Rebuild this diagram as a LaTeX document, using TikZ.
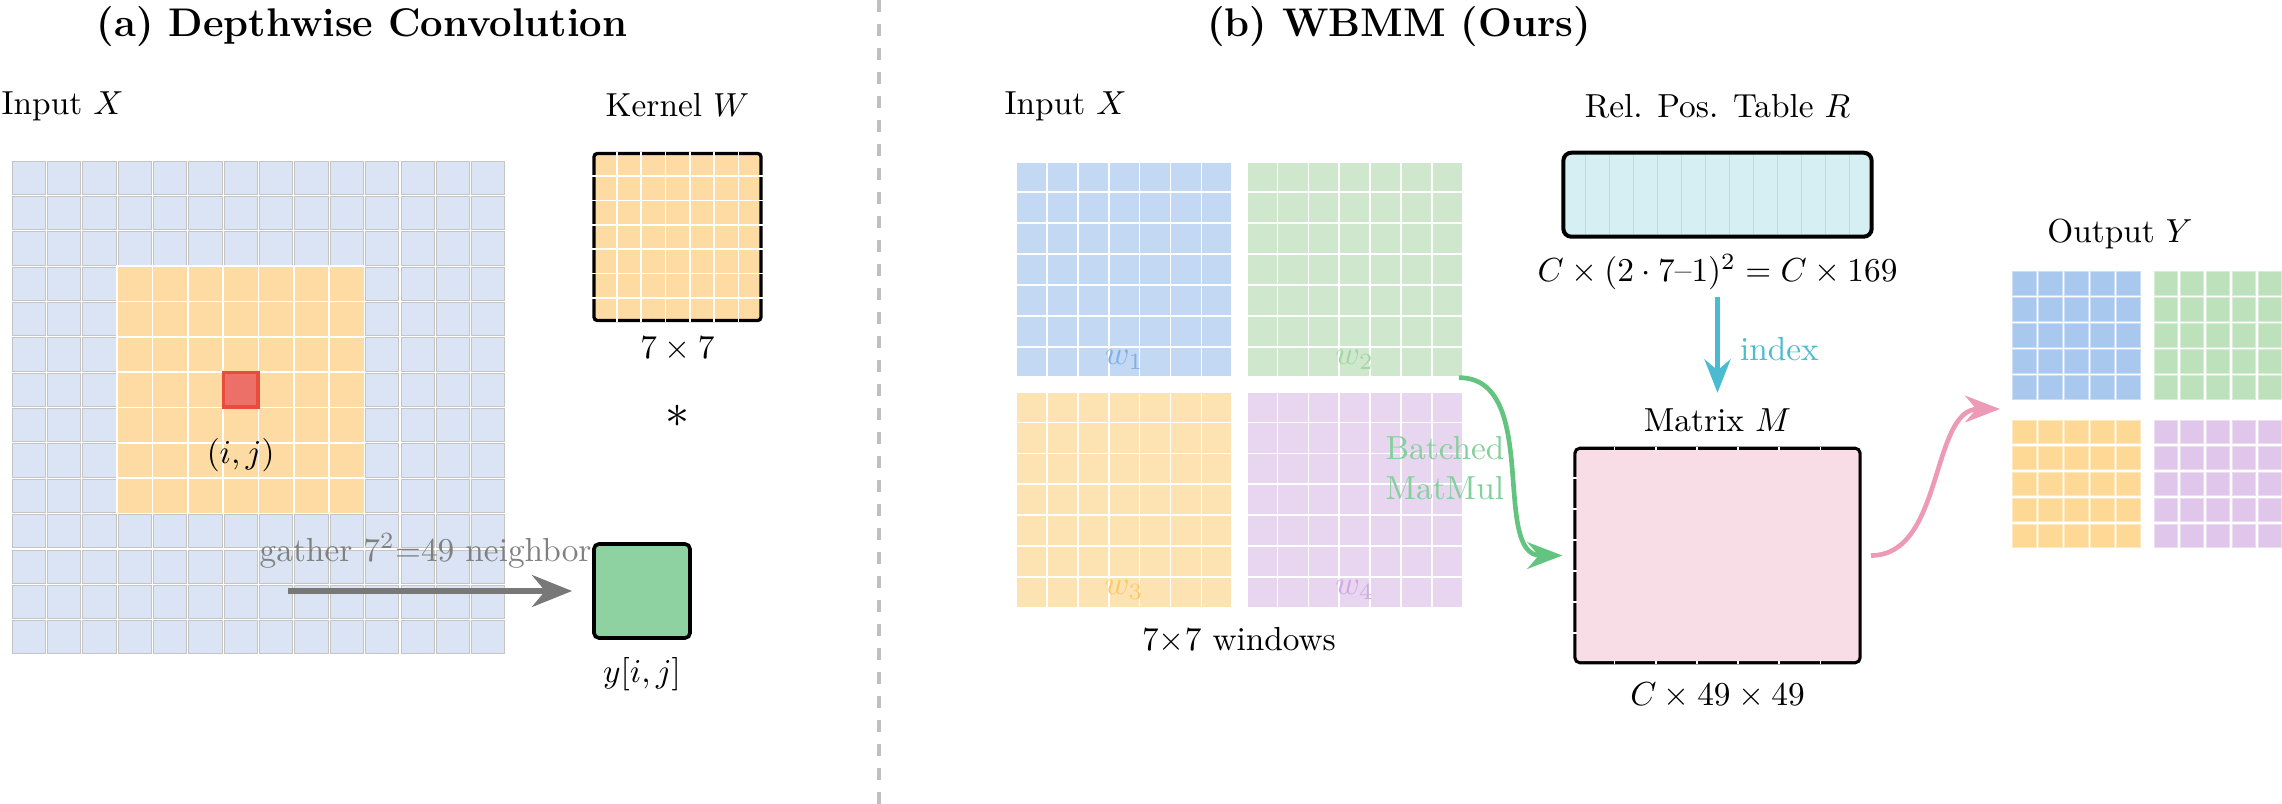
\documentclass[tikz,border=0pt]{standalone}
\usepackage{xcolor}
\usepackage{amsmath}
\usepackage{amssymb}
\usepackage{tikz}
\usetikzlibrary{calc,positioning,arrows.meta}
\definecolor{color1}{HTML}{DAE4F4}
\definecolor{color2}{HTML}{FDDBA3}
\definecolor{color3}{HTML}{ED7068}
\definecolor{color4}{HTML}{E74C3C}
\definecolor{color5}{HTML}{8DD2A0}
\definecolor{color6}{HTML}{D6EFF3}
\definecolor{color7}{HTML}{B0E2EA}
\definecolor{color8}{HTML}{F9DDE6}
\definecolor{color9}{HTML}{4BBCD0}
\definecolor{color10}{HTML}{EC9AB5}
\definecolor{color11}{HTML}{63C480}
\definecolor{winblue}{HTML}{C3D8F3}
\definecolor{wingreen}{HTML}{CFE8CD}
\definecolor{winorange}{HTML}{FDE3B2}
\definecolor{winpurple}{HTML}{E8D5F0}
\definecolor{lblblue}{HTML}{7FAEE8}
\definecolor{lblgreen}{HTML}{A3D6A3}
\definecolor{lblorange}{HTML}{FBC96C}
\definecolor{lblpurple}{HTML}{D0A9E3}
\definecolor{outblue}{HTML}{A9C8EE}
\definecolor{outgreen}{HTML}{BDE1BB}
\definecolor{outorange}{HTML}{FDD995}
\definecolor{outpurple}{HTML}{E0C6EA}
\newlength{\ConvCompareFigureUnit}
\setlength{\ConvCompareFigureUnit}{0.3pt}
\newcommand{\ConvCompareTitleFont}{\fontsize{12pt}{14pt}\selectfont\bfseries}
\newcommand{\ConvCompareLabelFont}{\fontsize{10pt}{12pt}\selectfont}

\begin{document}
\begin{tikzpicture}[x=\ConvCompareFigureUnit,y=-\ConvCompareFigureUnit]
            \tikzset{
                conv label/.style={font=\ConvCompareLabelFont, inner sep=2pt},
                conv title/.style={font=\ConvCompareTitleFont, inner sep=0pt},
                depthwise cell/.style={draw=black!23, fill=color1, line width=0.3pt},
                depthwise window/.style={draw=white, fill=color2, line width=0.5pt},
                depthwise center/.style={draw=color4, fill=color3, line width=1pt,
                    minimum size=10.3pt, inner sep=0pt},
                kernel box/.style={draw=black, fill=color2, line width=1pt,
                    rounded corners=1pt, minimum size=50.1pt, inner sep=0pt},
                cell line/.style={draw=white, line width=0.5pt},
                result box/.style={draw=black, fill=color5, line width=1.1pt,
                    rounded corners=1.5pt, minimum width=28.8pt, minimum height=28.2pt,
                    inner sep=0pt},
                gather flow/.style={-{Stealth[length=12pt,width=9.5pt]}, line width=1.9pt,
                    draw=black!53},
                window block/.style={draw=white, line width=0.4pt, minimum size=64.5pt,
                    inner sep=0pt},
                rel table/.style={draw=black, fill=color6, line width=1.2pt,
                    rounded corners=2.4pt, minimum width=92.5pt, minimum height=25.2pt,
                    inner sep=0pt},
                score matrix/.style={draw=black, fill=color8, line width=1pt,
                    rounded corners=1.5pt, minimum width=85.5pt, minimum height=64.3pt,
                    inner sep=0pt},
                matmul flow/.style={-{Stealth[length=10.5pt,width=8pt]}, line width=1.4pt,
                    draw=color11},
                index flow/.style={-{Stealth[length=10pt,width=7.8pt]}, line width=1.5pt,
                    draw=color9},
                output flow/.style={-{Stealth[length=10.5pt,width=8pt]}, line width=1.4pt,
                    draw=color10},
                output cell/.style={line width=0.3pt},
                divider/.style={draw=black!25, line width=1.2pt,
                    dash pattern=on 3.6pt off 3.6pt}
            }
            \useasboundingbox (0,0) rectangle (2282,804);

            % titles and divider
            \node[conv title, anchor=base] (title-dw) at (362,37) {(a) Depthwise Convolution};
            \node[conv title, anchor=base] (title-wbmm) at (1399,37) {(b) WBMM (Ours)};
            \draw[divider] (879,0) -- (879,804);

            % (a) input grid with the 7x7 neighbourhood
            \foreach \row in {0,...,13} {
                \foreach \col in {0,...,13} {
                    \path[depthwise cell] (12.1+\col*35.36,161.1+\row*35.36) rectangle ++(33.2,33.2);
                }
            }
            \foreach \row in {3,...,9} {
                \foreach \col in {3,...,9} {
                    \path[depthwise window] (11+\col*35.36,160+\row*35.36) rectangle ++(35.36,35.36);
                }
            }
            \node[depthwise center] (dw-center) at (240.8,389.8) {};
            \node[conv label] (dw-center-label) at (240.7,455) {$(i,j)$};
            \node[conv label, anchor=base west, inner sep=0pt] (dw-input-label) at (1,115) {Input $X$};

            % kernel
            \node[kernel box] (kernel) at (677.5,237) {};
            \foreach \k in {1,...,6} {
                \draw[cell line] ($(kernel.north west)!\k/7!(kernel.north east)$)
                    -- ($(kernel.south west)!\k/7!(kernel.south east)$);
                \draw[cell line] ($(kernel.north west)!\k/7!(kernel.south west)$)
                    -- ($(kernel.north east)!\k/7!(kernel.south east)$);
            }
            \node[conv label, anchor=base] (kernel-label) at (677.5,117) {Kernel $W$};
            \node[conv label] (kernel-size) at (677.5,349) {$7\times7$};
            \node[conv label, font=\fontsize{14.4pt}{16pt}\selectfont] (conv-op) at (677.5,416) {$\ast$};

            % gather into one output value
            \node[conv label, anchor=base west, inner sep=0pt, text=black!50] (gather-label)
                at (259,561) {gather 7$^2$=49 neighbors};
            \node[result box] (yout) at (642,591) {};
            \node[conv label] (yout-label) at (642,674) {$y[i,j]$};
            \coordinate (gather-start) at (288,591);
            \draw[gather flow, shorten >=6pt] (gather-start) -- (yout.west);

            % (b) windows
            \foreach \win/\wx/\wy/\wcol in {1/1124.2/269.5/blue,2/1354.7/269.5/green,
                    3/1124.2/499.7/orange,4/1354.7/499.7/purple} {
                \node[window block, fill=win\wcol] (w\win) at (\wx,\wy) {};
                \foreach \k in {1,...,6} {
                    \draw[cell line] ($(w\win.north west)!\k/7!(w\win.north east)$)
                        -- ($(w\win.south west)!\k/7!(w\win.south east)$);
                    \draw[cell line] ($(w\win.north west)!\k/7!(w\win.south west)$)
                        -- ($(w\win.north east)!\k/7!(w\win.south east)$);
                }
                \node[conv label, text=lbl\wcol] (w\win-label) at ([yshift=5.4pt]w\win.south) {$w_{\win}$};
            }
            \node[conv label, anchor=base west, inner sep=0pt] (wbmm-input-label) at (1004,115) {Input $X$};
            \node[conv label] (window-size) at (1239,640) {$7{\times}7$ windows};
            \node[conv label, align=left, text=color11!80!white] (matmul-label) at (1445,468) {Batched\\MatMul};

            % relative position table
            \node[rel table] (rel-table) at (1717.5,194.7) {};
            \foreach \k in {1,...,12} {
                \draw[draw=color7, line width=0.5pt, shorten <=1.3pt, shorten >=1.3pt]
                    ($(rel-table.north west)!\k/13!(rel-table.north east)$)
                    -- ($(rel-table.south west)!\k/13!(rel-table.south east)$);
            }
            \node[conv label, anchor=base] (rel-label) at (1717.5,118) {Rel. Pos. Table $R$};
            \node[conv label] (rel-size) at (1717.5,272) {$C\times(2\cdot7\text{--}1)^2=C\times169$};

            % score matrix
            \node[score matrix] (attn-matrix) at (1717.5,555.5) {};
            \foreach \k in {1,...,6} {
                \draw[cell line] ($(attn-matrix.north west)!\k/7!(attn-matrix.north east)$)
                    -- ($(attn-matrix.south west)!\k/7!(attn-matrix.south east)$);
                \draw[cell line] ($(attn-matrix.north west)!\k/7!(attn-matrix.south west)$)
                    -- ([xshift=-1pt]$(attn-matrix.north east)!\k/7!(attn-matrix.south east)$);
            }
            \fill[color8, rounded corners=1pt] ([shift={(1pt,-1pt)}]attn-matrix.north west)
                rectangle ([shift={(-1pt,1pt)}]attn-matrix.south east);
            \node[conv label] (matrix-label) at (1717.5,420) {Matrix $M$};
            \node[conv label] (matrix-size) at (1717.5,695) {$C\times49\times49$};

            % output windows
            \foreach \bx/\by/\bcol in {2012.7/271.7/outblue,2154.3/271.7/outgreen,
                    2012.7/420/outorange,2154.3/420/outpurple} {
                \foreach \row in {0,...,4} {
                    \foreach \col in {0,...,4} {
                        \path[output cell, fill=\bcol, draw=\bcol!60!white]
                            (\bx+\col*26,\by+\row*26) rectangle ++(23.4,23.4);
                    }
                }
            }
            \coordinate (output-west) at (2012.7,409);
            \node[conv label, anchor=base] (output-label) at (2120,243) {Output $Y$};

            % flows
            \draw[matmul flow, shorten >=3.3pt] ([xshift=-1.2pt]w2.south east)
                to[out=0,in=180] (attn-matrix.west);
            \draw[index flow, shorten >=2.5pt] (rel-size) -- (matrix-label)
                node[midway, right=4pt, conv label, text=color9] (index-label) {index};
            \draw[output flow, shorten <=2.8pt, shorten >=3.8pt] (attn-matrix.east)
                to[out=0,in=180] (output-west);
\end{tikzpicture}
\end{document}
